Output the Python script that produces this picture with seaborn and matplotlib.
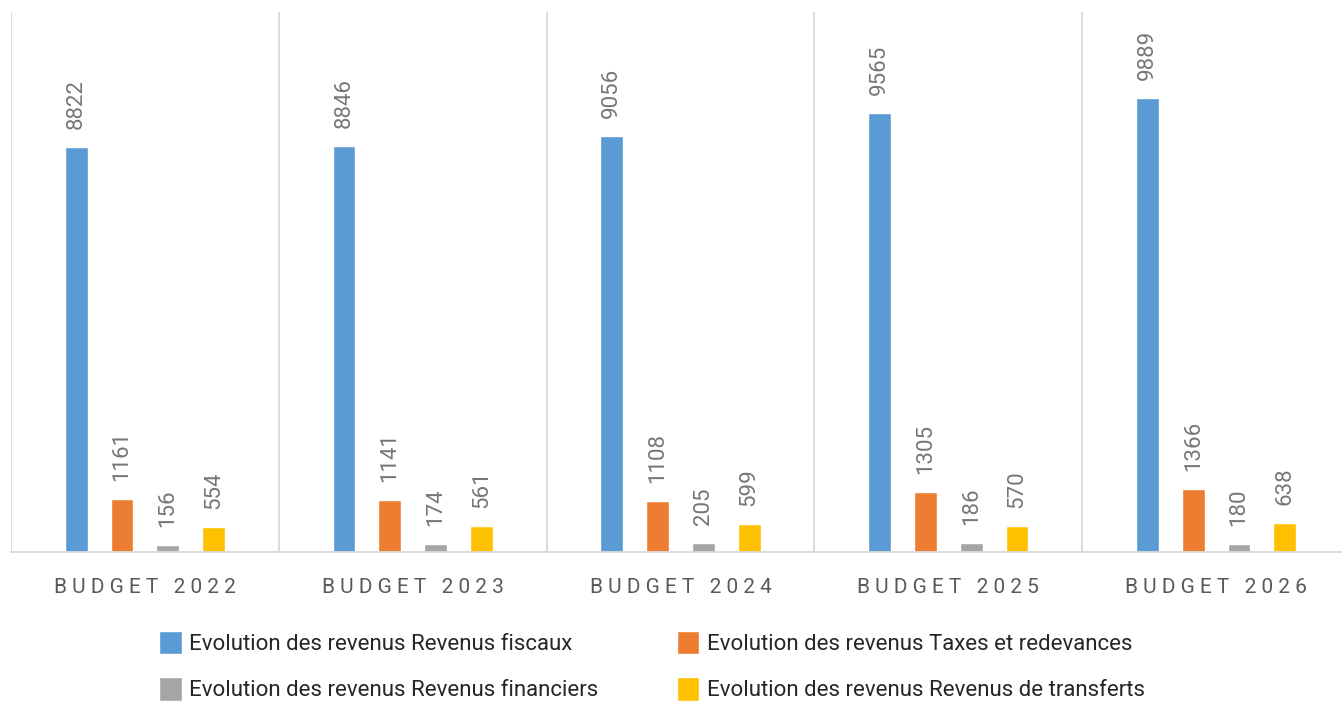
import numpy as np
import pandas as pd
import matplotlib
matplotlib.use("Agg")
import matplotlib.pyplot as plt
import seaborn as sns

# Données
budgets = ["BUDGET 2022", "BUDGET 2023", "BUDGET 2024", "BUDGET 2025", "BUDGET 2026"]
series = [
    "Evolution des revenus Revenus fiscaux",
    "Evolution des revenus Taxes et redevances",
    "Evolution des revenus Revenus financiers",
    "Evolution des revenus Revenus de transferts",
]
revenus_fiscaux = [8822, 8846, 9056, 9565, 9889]
taxes_redevances = [1161, 1141, 1108, 1305, 1366]
revenus_financiers = [156, 174, 205, 186, 180]
revenus_transferts = [554, 561, 599, 570, 638]
colors = ["#5B9BD5", "#ED7D31", "#A5A5A5", "#FFC000"]

rows = []
for name, vals in zip(series, [revenus_fiscaux, taxes_redevances, revenus_financiers, revenus_transferts]):
    for b, v in zip(budgets, vals):
        rows.append({"Budget": b, "Serie": name, "Valeur": v})
df = pd.DataFrame(rows)

sns.set_style("white")
plt.rcParams["font.family"] = ["Roboto", "DejaVu Sans"]

fig = plt.figure(figsize=(13.42, 7.02), dpi=100)
ax = fig.add_axes([11 / 1342, 150 / 702, 1339 / 1342, 540 / 702])

sns.barplot(data=df, x="Budget", y="Valeur", hue="Serie", hue_order=series,
            palette=colors, saturation=1, width=0.684, gap=0.5, ax=ax, legend=True)

for cont in ax.containers:
    ax.bar_label(cont, rotation=90, padding=13, fontsize=16, color="#767676")

ax.set_ylim(0, 11760)
ax.set_xlim(-0.5, len(budgets) - 0.5)
ax.set_yticks([])
ax.set_xlabel("")
ax.set_ylabel("")

# séparateurs verticaux entre les groupes
ax.set_xticks(np.arange(-0.5, len(budgets), 1), minor=True)
ax.grid(which="minor", axis="x", color="#D9D9D9", linewidth=1.3)
ax.tick_params(axis="x", which="both", length=0)
ax.set_xticklabels([" ".join(b) for b in budgets], fontsize=15, color="#595959")
ax.tick_params(axis="x", pad=19)

for s in ["top", "right", "left"]:
    ax.spines[s].set_visible(False)
ax.spines["bottom"].set_color("#D9D9D9")
ax.spines["bottom"].set_linewidth(1.3)

# légende remplie ligne par ligne comme dans l'original
handles, labels = ax.get_legend_handles_labels()
ax.get_legend().remove()
order = [0, 2, 1, 3]
fig.legend([handles[i] for i in order], [labels[i] for i in order], ncol=2,
           loc="center", bbox_to_anchor=(652 / 1342, 36 / 702),
           frameon=False, fontsize=16, handlelength=1.0, handleheight=1.25,
           handletextpad=0.35, columnspacing=3.5, labelspacing=1.0,
           labelcolor="#262626")

fig.savefig("out.png", dpi=100)
